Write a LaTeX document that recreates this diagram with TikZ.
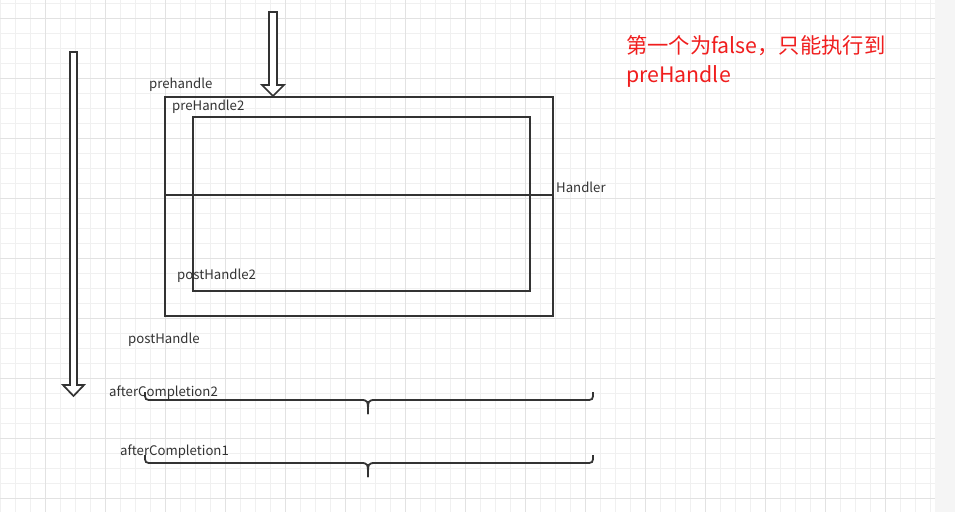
\documentclass[tikz,border=0pt]{standalone}
\usepackage{fontspec}
\setmainfont{Noto Sans CJK SC}
\definecolor{Ink}{HTML}{333333}
\definecolor{GridMinor}{HTML}{F0F0F0}
\definecolor{GridMajor}{HTML}{E2E2E2}
\definecolor{Note}{HTML}{F01E1E}
\begin{document}
\begin{tikzpicture}[x=1pt,y=-1pt,
  frame/.style={draw=Ink,line width=1.8pt,minimum width=#1},
  lbl/.style={anchor=base west,inner sep=0pt,text=Ink,font=\fontsize{13.2}{15}\selectfont},
  hollow/.style={draw=Ink,line width=1.7pt,fill=white,line join=miter},
  brace/.style={draw=Ink,line width=1.8pt}]
\useasboundingbox (0,0) rectangle (955,512);
% background grid
\fill[white] (0,0) rectangle (935,512);
\fill[GridMinor!70] (935,0) rectangle (955,512);
\foreach \gx in {0,15,...,930} \draw[GridMinor,line width=1pt] (\gx,0) -- (\gx,512);
\foreach \gy in {3,18,...,510} \draw[GridMinor,line width=1pt] (0,\gy) -- (935,\gy);
\foreach \gx in {45,105,...,885} \draw[GridMajor,line width=1pt] (\gx,0) -- (\gx,512);
\foreach \gy in {18,78,...,498} \draw[GridMajor,line width=1pt] (0,\gy) -- (935,\gy);
% boxes
\node[frame=388pt,minimum height=219pt,anchor=north west,inner sep=0pt] (outer) at (164,96) {};
\node[frame=337pt,minimum height=174pt,anchor=north west,inner sep=0pt] (inner) at (192,116) {};
\coordinate (midL) at (164,195);
\coordinate (midR) at (552,195);
\draw[Ink,line width=1.8pt] (midL) -- (midR);
% arrows
\draw[hollow] (70,52) -- (77,52) -- (77,385) -- (84,385) -- (73.5,396) -- (63,385) -- (70,385) -- cycle;
\draw[hollow] (269,12) -- (277,12) -- (277,85) -- (284,85) -- (273,96) -- (262,85) -- (269,85) -- cycle;
% labels
\node[lbl] (pre) at (149,88) {prehandle};
\node[lbl] (pre2) at (172,110) {preHandle2};
\node[lbl] (handler) at (556,192) {Handler};
\node[lbl] (post2) at (177,279) {postHandle2};
\node[lbl] (post) at (128,343) {postHandle};
\node[lbl] (after2) at (109,396) {afterCompletion2};
\node[lbl] (after1) at (120,455) {afterCompletion1};
% braces
\foreach \by in {392,455} {
  \draw[brace] (145,\by) .. controls (145,\by+8) .. (153,\by+8) -- (360,\by+8)
    .. controls (368,\by+8) .. (368,\by+22);
  \draw[brace] (368,\by+22) .. controls (368,\by+8) .. (376,\by+8) -- (585,\by+8)
    .. controls (593,\by+8) .. (593,\by);
}
% note
\node[anchor=base west,inner sep=0pt,text=Note,font=\fontsize{21.3}{24}\selectfont] (note1) at (626,53) {第一个为false，只能执行到};
\node[anchor=base west,inner sep=0pt,text=Note,font=\fontsize{21.3}{24}\selectfont] (note2) at (626,82) {preHandle};
\end{tikzpicture}
\end{document}
